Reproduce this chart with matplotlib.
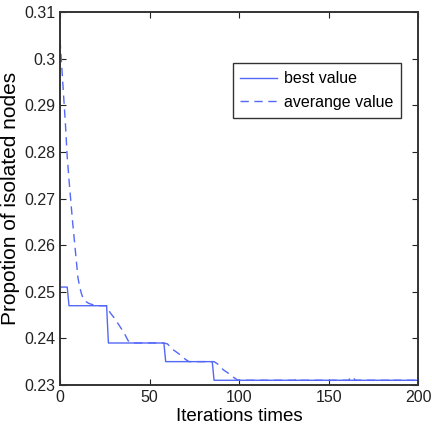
import matplotlib
matplotlib.use('Agg')
import matplotlib.pyplot as plt

plt.rcParams['font.family'] = ['Liberation Sans', 'DejaVu Sans']

# best value (step curve)
best_x = [0, 4, 5, 26, 27, 58, 59, 85, 86, 200]
best_y = [0.251, 0.251, 0.247, 0.247, 0.239, 0.239, 0.235, 0.235, 0.231, 0.231]

# average value
avg_x = [0, 1, 2, 3, 4, 5, 6, 7, 8, 9, 10, 11, 12, 13, 14, 16, 20, 26, 28, 30, 33, 36, 38, 40,
         58, 60, 63, 67, 70, 72, 86, 88, 91, 94, 97, 99, 100, 131, 132, 133, 161, 163, 165,
         184, 185, 186, 200]
avg_y = [0.304, 0.298, 0.292, 0.286, 0.279, 0.274, 0.2695, 0.265, 0.261, 0.257, 0.253, 0.251,
         0.2495, 0.2485, 0.248, 0.2475, 0.247, 0.247, 0.2455, 0.2445, 0.2428, 0.241, 0.2395,
         0.239, 0.239, 0.2388, 0.2376, 0.2365, 0.2355, 0.235, 0.235, 0.2345, 0.2333, 0.2325,
         0.2316, 0.2311, 0.231, 0.231, 0.2313, 0.231, 0.231, 0.2318, 0.231, 0.231, 0.2314,
         0.231, 0.231]

xticks = [0, 50, 100, 150, 200]
yticks = [0.23, 0.24, 0.25, 0.26, 0.27, 0.28, 0.29, 0.3, 0.31]
yticklabels = ['0.23', '0.24', '0.25', '0.26', '0.27', '0.28', '0.29', '0.3', '0.31']

color = '#5468f8'

fig = plt.figure(figsize=(4.32, 4.33), dpi=100)
ax = fig.add_axes([0.139, 0.111, 0.829, 0.861])

ax.plot(best_x, best_y, '-', color=color, lw=1.0, label='best value')
ax.plot(avg_x, avg_y, '--', color=color, lw=1.0, dashes=(6, 4), label='averange value')

ax.set_xlim(0, 200)
ax.set_ylim(0.23, 0.31)
ax.set_xticks(xticks)
ax.set_yticks(yticks)
ax.set_yticklabels(yticklabels)
ax.tick_params(direction='in', length=4, width=0.8, labelsize=11.5, top=True, right=True,
               colors='#222222')
for s in ax.spines.values():
    s.set_linewidth(1.4)
    s.set_color('#333333')

ax.set_xlabel('Iterations times', fontsize=13.5, labelpad=2)
ax.set_ylabel('Propotion of isolated nodes', fontsize=15, labelpad=3)

leg = ax.legend(loc='upper right', bbox_to_anchor=(0.952, 0.863), borderaxespad=0,
                fontsize=11.5, fancybox=False, framealpha=1, handlelength=2.3,
                handletextpad=0.4, borderpad=0.5, labelspacing=0.55)
leg.get_frame().set_edgecolor('#333333')
leg.get_frame().set_linewidth(1.0)

fig.savefig('out.png', dpi=100)
